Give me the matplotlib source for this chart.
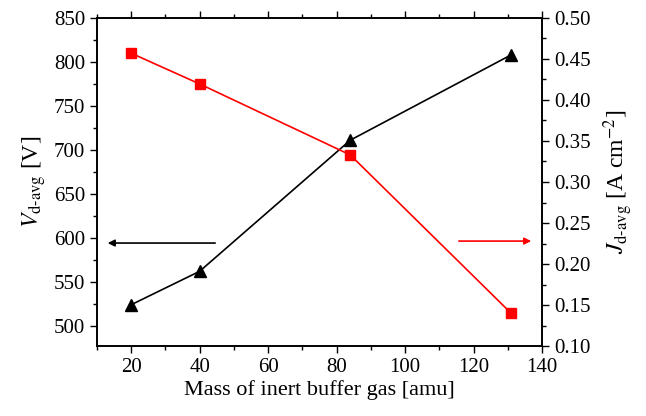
import numpy as np
import matplotlib
matplotlib.use('Agg')
import matplotlib.pyplot as plt

# data
mass = [20, 40, 84, 131]
v_avg = [524, 562, 711, 808]
j_avg = [0.457, 0.4195, 0.333, 0.140]

plt.rcParams['font.family'] = ['Liberation Serif']
plt.rcParams['mathtext.fontset'] = 'stix'

fig = plt.figure(figsize=(6.46, 4.16), dpi=100)
ax1 = fig.add_axes([0.150, 0.168, 0.689, 0.789])
ax2 = ax1.twinx()

ax1.plot(mass, v_avg, color='black', lw=1.2, marker='^', ms=9, zorder=3)
ax2.plot(mass, j_avg, color='red', lw=1.2, marker='s', ms=7.5, zorder=3)

ax1.set_xlim(10, 140)
ax1.set_ylim(477, 850)
ax2.set_ylim(0.10, 0.50)

ax1.set_xticks(np.arange(20, 141, 20))
ax1.set_xticks(np.arange(10, 141, 10), minor=True)
ax1.set_yticks(np.arange(500, 851, 50))
ax1.set_yticks(np.arange(500, 851, 25), minor=True)
ax2.set_yticks(np.arange(0.10, 0.501, 0.05))
ax2.set_yticks(np.arange(0.10, 0.501, 0.025), minor=True)
ax2.set_yticklabels(['%.2f' % t for t in np.arange(0.10, 0.501, 0.05)])

ax1.tick_params(axis='x', which='both', direction='out', top=True, labelsize=15)
ax1.tick_params(axis='y', which='both', direction='out', labelsize=15)
ax2.tick_params(axis='y', which='both', direction='out', labelsize=15)
for a in (ax1, ax2):
    a.tick_params(which='major', length=5, width=1)
    a.tick_params(which='minor', length=3, width=1)
    for s in a.spines.values():
        s.set_linewidth(1.2)

ax1.set_xlabel('Mass of inert buffer gas [amu]', fontsize=16, labelpad=2)
ax1.set_ylabel(r'$V_{\mathrm{d\text{-}avg}}$ [V]', fontsize=17, labelpad=4)
ax2.set_ylabel(r'$J_{\mathrm{d\text{-}avg}}$ [A cm$^{-2}$]', fontsize=17,
               rotation=90, labelpad=8)

# direction arrows
ax1.annotate('', xy=(0.018, 0.314), xytext=(0.272, 0.314), xycoords='axes fraction',
             arrowprops=dict(arrowstyle='-|>', color='black', lw=1.2, mutation_scale=10))
ax1.annotate('', xy=(0.982, 0.320), xytext=(0.807, 0.320), xycoords='axes fraction',
             arrowprops=dict(arrowstyle='-|>', color='red', lw=1.2, mutation_scale=10))

plt.savefig('out.png', dpi=100)
